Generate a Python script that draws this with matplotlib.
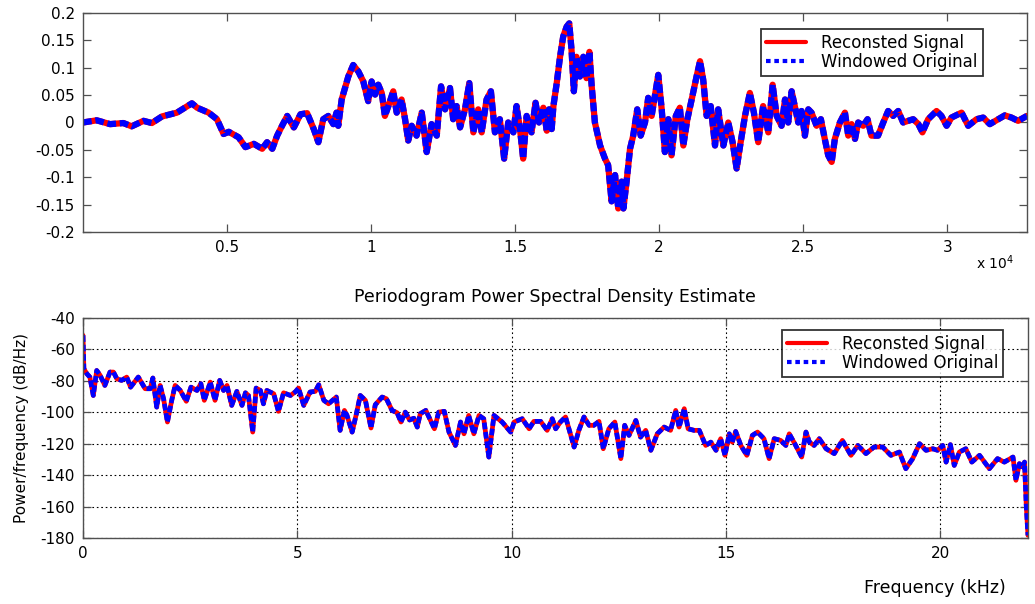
import matplotlib
matplotlib.use("Agg")
import matplotlib.pyplot as plt

plt.rcParams['font.family'] = ['DejaVu Sans']

# time-domain signal (sample index, amplitude)
signal_n = [0, 475, 940, 1400, 1690, 2100, 2390, 2740, 3260, 3780, 3960, 4360, 4650,
            4880, 5060, 5400, 5640, 5930, 6220, 6390, 6570, 6740, 6910, 7090, 7320,
            7550, 7780, 8010, 8170, 8340, 8515, 8690, 8800, 8860, 8980, 9210, 9380,
            9560, 9730, 9900, 10020, 10140, 10250, 10370, 10480, 10600, 10770, 10890,
            11060, 11180, 11290, 11410, 11580, 11760, 11930, 12100, 12280, 12430,
            12570, 12740, 12850, 12970, 13090, 13260, 13410, 13550, 13720, 13840,
            14010, 14160, 14300, 14470, 14620, 14760, 14940, 15050, 15170, 15280,
            15400, 15570, 15710, 15830, 15980, 16100, 16180, 16270, 16330, 16440,
            16560, 16670, 16790, 16880, 16960, 17040, 17130, 17250, 17370, 17480,
            17580, 17660, 17770, 17950, 18120, 18230, 18350, 18470, 18580, 18700,
            18760, 18870, 18990, 19100, 19240, 19360, 19510, 19620, 19740, 19850,
            19970, 20090, 20200, 20320, 20430, 20580, 20720, 20840, 20980, 21130,
            21300, 21420, 21530, 21650, 21790, 21940, 22050, 22230, 22400, 22550,
            22690, 22830, 22980, 23150, 23290, 23440, 23610, 23790, 23940, 24080,
            24250, 24370, 24480, 24600, 24710, 24830, 24945, 25060, 25180, 25290,
            25465, 25615, 25750, 25870, 25990, 26100, 26275, 26450, 26565, 26680,
            26800, 26910, 27085, 27235, 27370, 27600, 27780, 27950, 28125, 28300,
            28470, 28650, 28820, 29000, 29140, 29340, 29630, 29800, 29980, 30150,
            30500, 30730, 31020, 31250, 31480, 31770, 32000, 32230, 32460, 32768]
signal_v = [0.0, 0.004, -0.003, -0.001, -0.007, 0.003, -0.001, 0.011, 0.018, 0.035,
            0.027, 0.018, 0.006, -0.021, -0.017, -0.027, -0.045, -0.039, -0.048,
            -0.036, -0.048, -0.024, -0.006, 0.012, -0.009, 0.015, 0.017, -0.012,
            -0.036, 0.006, 0.012, -0.003, 0.018, -0.006, 0.042, 0.084, 0.105, 0.093,
            0.075, 0.039, 0.075, 0.051, 0.069, 0.054, 0.012, 0.030, 0.057, 0.018,
            0.042, 0.006, -0.033, -0.006, -0.024, 0.018, -0.054, -0.003, -0.024,
            0.066, 0.024, 0.063, 0.006, 0.030, -0.009, 0.024, 0.072, -0.018, 0.024,
            -0.018, 0.042, 0.057, -0.018, 0.006, -0.066, 0.0, -0.018, 0.030, -0.012,
            -0.066, 0.012, -0.018, 0.036, 0.0, 0.027, -0.015, 0.024, -0.012, 0.030,
            0.070, 0.120, 0.157, 0.175, 0.181, 0.132, 0.057, 0.120, 0.084, 0.120,
            0.081, 0.129, 0.066, 0.0, -0.042, -0.066, -0.078, -0.144, -0.096, -0.157,
            -0.108, -0.157, -0.108, -0.048, -0.024, 0.024, -0.024, 0.0, 0.045, 0.012,
            0.048, 0.087, 0.024, -0.054, 0.006, -0.060, 0.012, 0.027, -0.042, 0.006,
            0.042, 0.084, 0.112, 0.078, 0.012, 0.030, -0.042, 0.024, -0.042, 0.0,
            -0.036, -0.084, -0.036, 0.012, 0.054, 0.018, -0.036, 0.030, -0.018, 0.069,
            0.012, -0.006, 0.042, 0.0, 0.057, 0.030, 0.0, 0.021, -0.024, 0.024,
            0.018, -0.006, 0.006, -0.030, -0.060, -0.072, -0.030, 0.0, 0.018, -0.024,
            -0.003, -0.030, 0.0, -0.006, 0.006, -0.024, -0.024, 0.0, 0.021, 0.012,
            0.021, 0.0, 0.003, 0.006, -0.003, -0.018, 0.006, 0.021, 0.012, -0.006,
            0.009, 0.018, -0.006, 0.006, 0.009, -0.003, 0.006, 0.013, 0.009, 0.003,
            0.012]

# periodogram (kHz, dB/Hz)
psd_f = [0.0, 0.02, 0.09, 0.16, 0.24, 0.32, 0.40, 0.51, 0.63, 0.71, 0.79, 0.90, 1.02,
         1.11, 1.29, 1.45, 1.57, 1.63, 1.72, 1.80, 1.88, 1.97, 2.07, 2.15, 2.27, 2.41,
         2.52, 2.66, 2.75, 2.83, 2.97, 3.08, 3.19, 3.28, 3.36, 3.47, 3.59, 3.71, 3.79,
         3.86, 3.96, 4.04, 4.14, 4.21, 4.29, 4.45, 4.56, 4.68, 4.84, 4.95, 5.03, 5.15,
         5.30, 5.42, 5.50, 5.62, 5.73, 5.91, 6.00, 6.10, 6.16, 6.28, 6.38, 6.47, 6.59,
         6.72, 6.82, 6.98, 7.08, 7.21, 7.33, 7.42, 7.52, 7.62, 7.72, 7.80, 7.87, 8.00,
         8.20, 8.30, 8.43, 8.54, 8.69, 8.81, 8.89, 9.00, 9.12, 9.24, 9.35, 9.47, 9.59,
         9.78, 9.98, 10.06, 10.25, 10.41, 10.52, 10.68, 10.83, 10.95, 11.03, 11.14,
         11.26, 11.46, 11.57, 11.69, 11.81, 11.92, 12.04, 12.14, 12.27, 12.41, 12.55,
         12.64, 12.74, 12.90, 13.01, 13.13, 13.25, 13.40, 13.56, 13.71, 13.83, 13.91,
         14.03, 14.12, 14.26, 14.38, 14.53, 14.65, 14.77, 14.88, 14.98, 15.08, 15.15,
         15.23, 15.35, 15.49, 15.62, 15.74, 15.89, 16.01, 16.13, 16.28, 16.40, 16.48,
         16.63, 16.77, 16.87, 16.95, 17.06, 17.18, 17.34, 17.53, 17.72, 17.92, 18.08,
         18.27, 18.46, 18.66, 18.85, 19.05, 19.20, 19.36, 19.52, 19.67, 19.83, 19.94,
         20.06, 20.14, 20.24, 20.33, 20.45, 20.60, 20.74, 20.92, 21.15, 21.34, 21.50,
         21.70, 21.77, 21.85, 21.93, 21.97, 22.01, 22.05]
psd_db = [-51, -72.3, -75.5, -77.6, -89.3, -73.4, -76.5, -82.9, -74.4, -74.4, -78.7,
          -79.7, -77.6, -84.0, -77.6, -85.0, -85.0, -78.2, -96.7, -82.9, -91.4, -106.2,
          -92.4, -82.9, -86.1, -93.0, -84.0, -86.1, -81.8, -92.4, -80.8, -92.4, -79.7,
          -86.1, -82.9, -95.6, -86.7, -95.6, -87.6, -89.3, -112.6, -84.6, -86.1, -94.6,
          -86.1, -88.2, -99.4, -87.6, -89.3, -87.1, -84.6, -95.6, -87.1, -86.7, -82.5,
          -92.4, -94.6, -90.3, -111.5, -98.8, -102.0, -112.6, -100.9, -89.3, -92.4,
          -110.0, -95.2, -90.3, -91.4, -98.8, -100.3, -106.2, -99.9, -104.9, -103.8,
          -109.4, -100.9, -98.8, -110.5, -99.9, -99.4, -112.6, -121.1, -106.2, -113.7,
          -102.0, -113.7, -102.0, -104.1, -128.5, -102.0, -106.2, -112.6, -106.2,
          -104.1, -110.5, -105.8, -105.8, -111.5, -104.1, -110.5, -106.2, -103.0,
          -122.1, -111.5, -103.0, -108.3, -108.3, -105.8, -123.2, -110.5, -106.2,
          -129.5, -108.3, -114.7, -105.2, -115.8, -111.5, -124.2, -113.7, -109.4,
          -111.5, -98.8, -109.4, -97.7, -110.5, -111.5, -111.5, -121.1, -119.0, -124.2,
          -116.8, -127.4, -113.7, -119.0, -112.2, -121.1, -127.4, -114.7, -112.6,
          -116.8, -129.5, -116.8, -117.9, -121.1, -113.7, -121.1, -128.5, -112.6,
          -119.0, -121.1, -116.8, -123.2, -126.3, -117.9, -127.4, -121.1, -126.3,
          -122.1, -122.1, -127.4, -125.3, -135.9, -129.5, -120.0, -124.2, -123.2,
          -124.2, -121.1, -131.7, -120.6, -133.8, -125.3, -123.2, -131.7, -127.4,
          -135.9, -129.5, -131.7, -128.5, -143.3, -132.7, -134.8, -131.7, -159.2, -178.3]

series_labels = ["Reconsted Signal", "Windowed Original"]

top_xticks = [5000, 10000, 15000, 20000, 25000, 30000]
top_xticklabels = ["0.5", "1", "1.5", "2", "2.5", "3"]
top_yticks = [-0.2, -0.15, -0.1, -0.05, 0, 0.05, 0.1, 0.15, 0.2]
top_yticklabels = ["-0.2", "-0.15", "-0.1", "-0.05", "0", "0.05", "0.1", "0.15", "0.2"]
psd_xticks = [0, 5, 10, 15, 20]
psd_yticks = [-180, -160, -140, -120, -100, -80, -60, -40]

FRAME = "#505050"


def style_axes(ax):
    for sp in ax.spines.values():
        sp.set_color(FRAME)
        sp.set_linewidth(1.0)
    ax.tick_params(direction="in", top=True, right=True, length=6, width=0.9,
                   color=FRAME, labelsize=11, pad=6)


def draw_pair(ax, x, y, lw):
    ax.plot(x, y, color="red", lw=lw, solid_capstyle="round",
            solid_joinstyle="round", label=series_labels[0])
    ax.plot(x, y, color="blue", lw=lw, linestyle=(0, (1.4, 0.6)),
            dash_capstyle="butt", label=series_labels[1])


def add_legend(ax, anchor):
    leg = ax.legend(loc="upper right", bbox_to_anchor=anchor, fontsize=12,
                    frameon=True, fancybox=False, handlelength=2.4,
                    handletextpad=0.9, labelspacing=0.05, borderpad=0.3,
                    borderaxespad=0)
    leg.get_frame().set_edgecolor("black")
    leg.get_frame().set_linewidth(1.3)
    for h in leg.get_lines():
        h.set_linewidth(3.0)
    # legend dots spaced a bit wider than on the curves
    leg.get_lines()[1].set_linestyle((0, (1.1, 0.9)))
    return leg


fig = plt.figure(figsize=(10.35, 6.04), dpi=100)

# signal
ax1 = fig.add_axes([0.0802, 0.6159, 0.912, 0.3626])
draw_pair(ax1, signal_n, signal_v, 4.5)
ax1.set_xlim(0, 32768)
ax1.set_ylim(-0.2, 0.2)
ax1.set_xticks(top_xticks)
ax1.set_xticklabels(top_xticklabels)
ax1.set_yticks(top_yticks)
ax1.set_yticklabels(top_yticklabels)
style_axes(ax1)
add_legend(ax1, (0.953, 0.927))
fig.text(976 / 1035, 1 - 263 / 604, r"x 10$^{4}$", fontsize=10, va="center", ha="left")

# periodogram
ax2 = fig.add_axes([0.0802, 0.1093, 0.913, 0.3642])
draw_pair(ax2, psd_f, psd_db, 3.4)
ax2.set_xlim(0, 22.05)
ax2.set_ylim(-180, -40)
ax2.set_xticks(psd_xticks)
ax2.set_yticks(psd_yticks)
ax2.set_yticklabels([str(v) for v in psd_yticks])
ax2.grid(True, color="black", linestyle=(0, (1.5, 2.5)), linewidth=0.8)
ax2.set_axisbelow(True)
style_axes(ax2)
add_legend(ax2, (0.9735, 0.945))

fig.text(555 / 1035, 1 - 297 / 604, "Periodogram Power Spectral Density Estimate",
         fontsize=12.5, ha="center", va="center")
fig.text(22 / 1035, 1 - 428 / 604, "Power/frequency (dB/Hz)", fontsize=11,
         rotation=90, ha="center", va="center")
fig.text(935 / 1035, 1 - 588 / 604, "Frequency (kHz)", fontsize=12.5,
         ha="center", va="center")

fig.savefig("out.png", dpi=100)
